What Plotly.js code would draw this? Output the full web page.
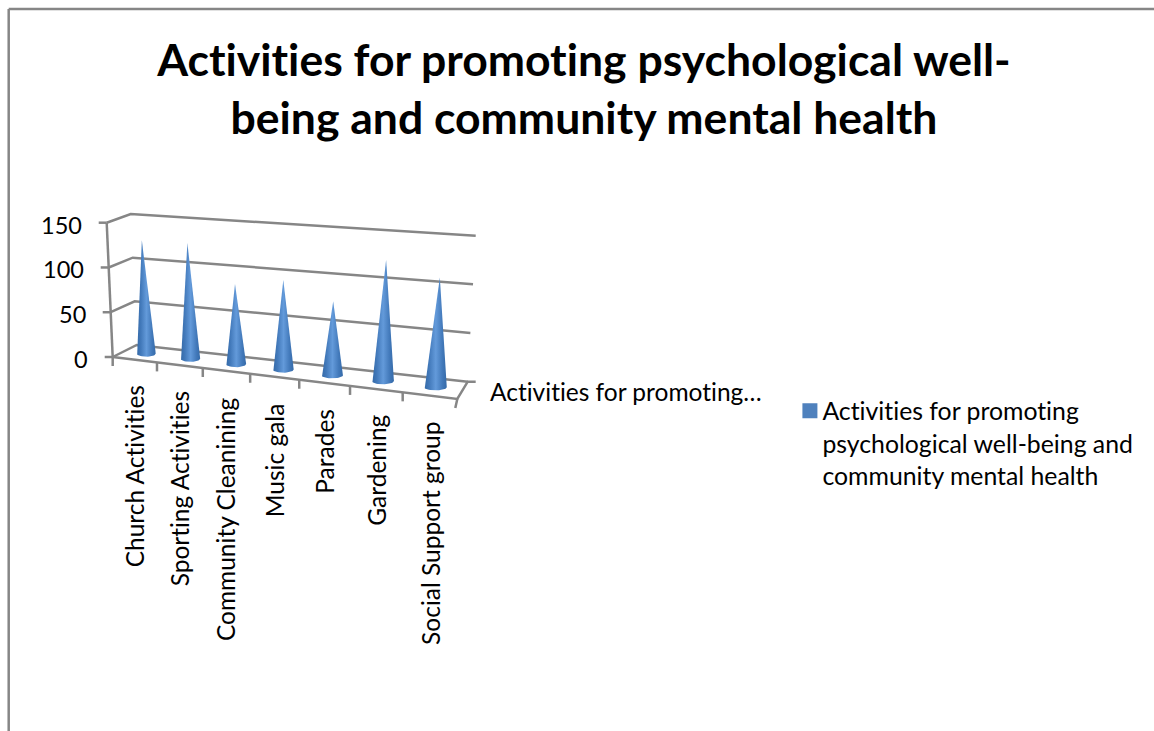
<!DOCTYPE html>
<html><head><meta charset="utf-8">
<script src="https://cdn.plot.ly/plotly-3.0.1.min.js"></script>
<style>html,body{margin:0;padding:0;background:#fff}#c{width:1154px;height:731px}
svg text, svg tspan{font-variant-ligatures:none !important;font-feature-settings:"liga" 0,"clig" 0,"dlig" 0 !important}</style>
</head><body><div id="c"></div>
<script>
const titleLines = ["Activities for promoting psychological well-", "being and community mental health"];
const categories = ["Church Activities","Sporting Activities","Community Cleanining","Music gala","Parades","Gardening","Social Support group"];
const values = [127,128,87,96,78,126,112];
const valueTicks = [0,50,100,150];
const seriesAxisLabel = "Activities for promoting…";
const legendLabel = "Activities for promoting<br>psychological well-being and<br>community mental health";

// Oblique projection of the chart's 3-D box on to the page
const FONT = "Lato, Carlito, Calibri, sans-serif", GREY = "#868686";
const box = {
  frontLeft:[[112.7,357],[106.7,222.7]], backLeft:[[136.7,345],[130.7,214]],
  backRight:[[467.7,381.7],[475.7,235.7]], frontRight:[[457.3,399],[463,249]]
};
const persp = 1.13, vMax = 150;
const lerp = (a,b,t)=>a+(b-a)*t;
const edge = (e,v)=>[lerp(e[0][0],e[1][0],v/vMax), lerp(e[0][1],e[1][1],v/vMax)];
function P(u,w,v){
  const t = u/(u+(1-u)*persp);
  const f0=edge(box.frontLeft,v), f1=edge(box.frontRight,v), b0=edge(box.backLeft,v), b1=edge(box.backRight,v);
  const fx=lerp(f0[0],f1[0],t), fy=lerp(f0[1],f1[1],t), bx=lerp(b0[0],b1[0],t), by=lerp(b0[1],b1[1],t);
  return [lerp(fx,bx,w), lerp(fy,by,w)];
}
const line = (pts)=>({type:"scatter",mode:"lines",x:pts.map(p=>p[0]),y:pts.map(p=>p[1]),
  line:{color:GREY,width:2.5},hoverinfo:"skip",showlegend:false});
const off = (p,dx,dy)=>[p[0]+dx,p[1]+dy];

const traces = [];
// gridlines on the side and back walls
valueTicks.forEach(v=>{
  traces.push(line([P(0,0,v),P(0,1,v),P(1,1,v)]));
  traces.push(line([off(P(0,0,v),-8,0),P(0,0,v)]));
});
// value axis, floor edges and ticks
traces.push(line([P(0,0,0),P(0,0,vMax)]));
traces.push(line([P(0,0,0),P(1,0,0),P(1,1,0),off(P(1,1,0),8,0)]));
categories.forEach((c,i)=>{ const p=P(i/categories.length,0,0); traces.push(line([p,off(p,0,9)])); });
{ const p=P(1,0,0); traces.push(line([p,off(p,-2,9)])); }

// cones
categories.forEach((c,i)=>{
  const u=(i+0.5)/categories.length, base=P(u,0.5,0), tip=P(u,0.5,values[i]);
  const hw=9.5+1.8*i/6, ry=3.2;
  const pts=[tip];
  for(let k=0;k<=20;k++){const a=Math.PI*k/20; pts.push([base[0]-hw*Math.cos(a), base[1]+ry*Math.sin(a)]);}
  pts.push(tip);
  traces.push({type:"scatter",mode:"lines",x:pts.map(p=>p[0]),y:pts.map(p=>p[1]),fill:"toself",
    line:{width:0,color:"rgba(0,0,0,0)"},
    fillgradient:{type:"horizontal",colorscale:[[0,"#356aa8"],[0.2,"#4279ba"],[0.5,"#639ada"],[0.8,"#4279ba"],[1,"#356aa8"]]},
    name:c,text:String(values[i]),hoverinfo:"name+text",showlegend:false});
});
// legend key
traces.push({type:"scatter",mode:"markers",x:[-100],y:[-100],name:legendLabel,
  marker:{symbol:"square",size:15,color:"#4f81bd"},hoverinfo:"skip",showlegend:true});

const ann=[];
valueTicks.forEach(v=>{ const p=P(0,0,v);
  ann.push({x:p[0]-22.5,y:p[1]+2,xref:"x",yref:"y",text:String(v),showarrow:false,xanchor:"right",yanchor:"middle",
    font:{family:FONT,size:23.5,color:"#000"}});
});
categories.forEach((c,i)=>{ const p=P((i+0.5)/categories.length,0,0);
  ann.push({x:p[0],y:p[1]+24,xref:"x",yref:"y",text:c,showarrow:false,textangle:-90,xanchor:"center",yanchor:"top",
    font:{family:FONT,size:24.5,color:"#000"}});
});
ann.push({x:488,y:391,xref:"x",yref:"y",text:seriesAxisLabel,showarrow:false,xanchor:"left",yanchor:"middle",
  font:{family:FONT,size:24.5,color:"#000"}});

const layout={
  width:1154,height:731,margin:{l:0,r:0,t:0,b:0},paper_bgcolor:"#fff",plot_bgcolor:"#fff",
  title:{text:titleLines.join("<br>"),x:0.506,xanchor:"center",xref:"paper",y:0.8965,yanchor:"bottom",
    font:{family:FONT,size:44.5,color:"#000",weight:700}},
  xaxis:{range:[0,1154],visible:false,fixedrange:true},
  yaxis:{range:[731,0],visible:false,fixedrange:true},
  showlegend:true,
  legend:{x:0.678,y:0.469,xanchor:"left",yanchor:"top",valign:"top",bgcolor:"rgba(0,0,0,0)",font:{family:FONT,size:24.8,color:"#000"},itemsizing:"trace"},
  annotations:ann,
  shapes:[{type:"line",xref:"paper",yref:"paper",x0:0.00754,x1:0.00754,y0:0,y1:0.9877,line:{color:GREY,width:2.5}},
          {type:"line",xref:"paper",yref:"paper",x0:0.00754,x1:1,y0:0.9877,y1:0.9877,line:{color:GREY,width:2.5}}]
};
Plotly.newPlot("c",traces,layout,{displayModeBar:false}).then(()=>{
  // the reference sets its legend key closer to the text than Plotly's key column does
  document.querySelectorAll("#c .legendsymbols").forEach(g=>g.setAttribute("transform","translate(7.5,0)"));
});
</script></body></html>
